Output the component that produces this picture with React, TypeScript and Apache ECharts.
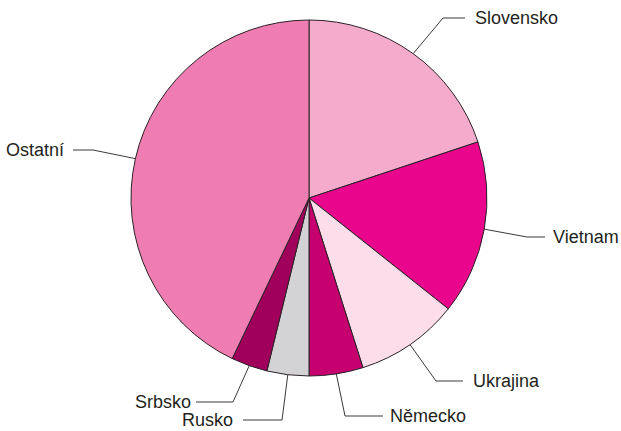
import React, { useEffect, useRef } from "react";
import * as echarts from "echarts";

const categories = ["Slovensko", "Vietnam", "Ukrajina", "Německo", "Rusko", "Srbsko", "Ostatní"];
const values = [19.9, 15.8, 9.4, 4.9, 3.8, 3.3, 42.9];
const colors = ["#f4abcc", "#ea068c", "#fcdde9", "#c6006f", "#d3d3d5", "#a0005c", "#f07db1"];

// label anchor: [elbowX, elbowY, endX, textX, align]
const labelAnchors: [number, number, number, number, string][] = [
  [443, 18, 465, 475, "left"],
  [527, 237, 545, 553, "left"],
  [436, 381, 463, 473, "left"],
  [345, 416, 383, 390, "left"],
  [282, 420, 243, 233, "right"],
  [233, 402, 196, 191, "right"],
  [93, 150, 73, 64, "right"],
];

export default function App() {
  const ref = useRef<HTMLDivElement>(null);
  useEffect(() => {
    document.body.style.margin = "0";
    const chart = echarts.init(ref.current!, null, { renderer: "svg" });
    chart.setOption({
      animation: false,
      backgroundColor: "#ffffff",
      series: [
        {
          type: "pie",
          center: [309, 198],
          radius: 178,
          startAngle: 90,
          clockwise: true,
          data: categories.map((name, i) => ({
            name,
            value: values[i],
            itemStyle: { color: colors[i] },
          })),
          itemStyle: { borderColor: "#2a2226", borderWidth: 1 },
          label: {
            show: true,
            formatter: "{b}",
            color: "#231f20",
            fontSize: 18,
            fontFamily: "Liberation Sans, Arial, sans-serif",
          },
          labelLine: {
            show: true,
            lineStyle: { color: "#3a3a3a", width: 1 },
          },
          labelLayout: (params: any) => {
            const a = labelAnchors[params.dataIndex];
            const start = params.labelLinePoints ? params.labelLinePoints[0] : [a[0], a[1]];
            return {
              x: a[3],
              y: a[1],
              align: a[4],
              verticalAlign: "middle",
              labelLinePoints: [start, [a[0], a[1]], [a[2], a[1]]],
            };
          },
        },
      ],
    });
    return () => chart.dispose();
  }, []);
  return <div ref={ref} style={{ width: 621, height: 431 }} />;
}
